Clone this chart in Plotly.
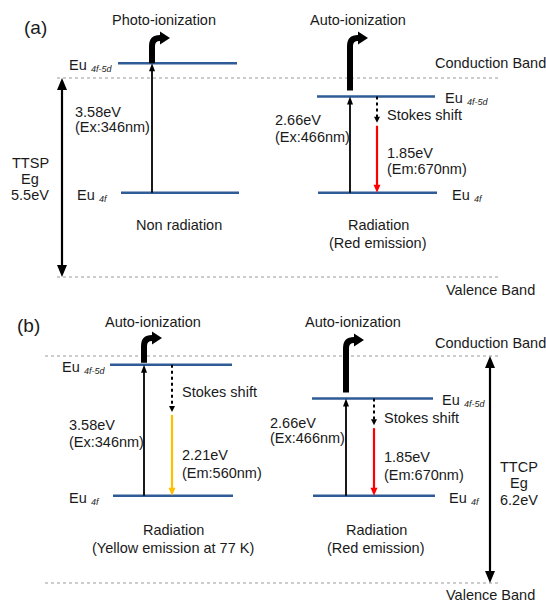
import plotly.graph_objects as go

W, H = 546, 602

# ---------------- energy data (eV) ----------------
PANELS = ["(a)", "(b)"]
HOSTS = ["TTSP", "TTCP"]
BAND_GAP_EV = [5.5, 6.2]
EU_4F_EV = [2.33, 2.38]                       # Eu 4f level above the valence band
EXCITATION_EV = [[3.58, 2.66], [3.58, 2.66]]
EXCITATION_NM = [[346, 466], [346, 466]]
EMISSION_EV = [[None, 1.85], [2.21, 1.85]]
EMISSION_NM = [[None, 670], [560, 670]]
EMISSION_COLOR = [[None, "#ff0000"], ["#ffc000", "#ff0000"]]
PROCESS = [["Photo-ionization", "Auto-ionization"],
           ["Auto-ionization", "Auto-ionization"]]
OUTCOME = [[["Non radiation"], ["Radiation", "(Red emission)"]],
           [["Radiation", "(Yellow emission at 77 K)"], ["Radiation", "(Red emission)"]]]
LEVEL_NAMES = ["4f-5d", "4f"]

# ---------------- layout geometry (pixels) ----------------
AXES = ["y", "y2"]
VB_PX = [277, 583]
CB_PX = [78, 356]
SPAN_PX = [(0, 300), (300, 602)]
SCALE = [(VB_PX[i] - CB_PX[i]) / BAND_GAP_EV[i] for i in range(2)]   # px per eV

LEVEL_BLUE = "#2f5b96"
INK = "#1a1a1a"
FONT = "Liberation Sans, Arial, sans-serif"
FS = 14.5

COLS = [
    [dict(lv5=(118, 237), lv4=(121, 239), x_ex=152, x_em=None, gap=0, top=38,
          lbl5=67, lbl4=75, ex_txt=73, ex_y=(112, 127), em_txt=None, em_y=None,
          stokes_y=None, mid=179, proc=164),
     dict(lv5=(317, 435), lv4=(318, 437), x_ex=350, x_em=377, gap=6, top=38,
          lbl5=443, lbl4=450, ex_txt=273, ex_y=(120, 137), em_txt=385, em_y=(153, 169),
          stokes_y=115, mid=378, proc=358)],
    [dict(lv5=(110, 232), lv4=(113, 233), x_ex=144, x_em=172, gap=2, top=338,
          lbl5=60, lbl4=67, ex_txt=67, ex_y=(425, 442), em_txt=180, em_y=(455, 473),
          stokes_y=392, mid=173, proc=153),
     dict(lv5=(312, 433), lv4=(313, 435), x_ex=346, x_em=374, gap=6, top=340,
          lbl5=440, lbl4=447, ex_txt=268, ex_y=(423, 438), em_txt=382, em_y=(457, 475),
          stokes_y=418, mid=376, proc=353)],
]
BAND_X = [(57, 500), (45, 498)]
GAP_ARROW_X = [62, 490]
GAP_TEXT_X = [30, 519]
GAP_TEXT_Y = [(163, 179, 195), (467, 483, 500)]
BAND_LABEL_Y = [(63, 290), (343, 595)]
PANEL_LABEL_XY = [(35, 27), (28, 325)]
PROC_Y = [20, 322]
OUTCOME_Y = [(225, 243), (530, 548)]

fig = go.Figure()
shapes, annots = [], []


def ev_at(p, py):
    """Energy (eV) on panel p's axis that sits at pixel row py."""
    return (VB_PX[p] - py) / SCALE[p]


def txt(s, x, y, anchor="center", size=FS, color=INK, style="normal"):
    annots.append(dict(text=s, x=x / W, y=1 - y / H, xref="paper", yref="paper",
                       xanchor={"l": "left", "r": "right"}.get(anchor, "center"),
                       yanchor="middle", showarrow=False, align="left",
                       font=dict(family=FONT, size=size, color=color, style=style)))


def level_label(name, x, py):
    """'Eu' with an italic subscript level name."""
    txt("Eu", x, py + 2, anchor="l")
    txt(name, x + 22, py + 6, anchor="l", size=9, style="italic")


def arrow(p, x, e0, e1, color="black", width=1.8, hw=7, hl=8, dash="solid", both=False):
    ax = AXES[p]
    d = 1 if e1 > e0 else -1
    h = hl / SCALE[p]
    start = e0 + d * h * 0.8 if both else e0
    shapes.append(dict(type="line", xref="x", yref=ax, x0=x, x1=x, y0=start,
                       y1=e1 - d * h * 0.8, line=dict(color=color, width=width, dash=dash)))

    def head(tip, dd):
        b = tip - dd * h
        shapes.append(dict(type="path", xref="x", yref=ax, fillcolor=color,
                           line=dict(width=0),
                           path=f"M{x - hw / 2},{b} L{x + hw / 2},{b} L{x},{tip} Z"))
    head(e1, d)
    if both:
        head(e0, -d)


def bent_arrow(p, x, e_bottom, top_px):
    ax = AXES[p]
    s = SCALE[p]
    r = 8
    yt = ev_at(p, top_px)
    xs = x + 9
    path = f"M{x},{e_bottom} L{x},{yt - r / s} Q{x},{yt} {x + r},{yt} L{xs},{yt}"
    shapes.append(dict(type="path", xref="x", yref=ax, path=path,
                       line=dict(color="black", width=6)))
    shapes.append(dict(type="path", xref="x", yref=ax, fillcolor="black",
                       line=dict(width=0),
                       path=f"M{xs - 1},{yt + 6.5 / s} L{xs - 1},{yt - 6.5 / s} "
                            f"L{xs + 9},{yt} Z"))


for p in range(2):
    ax = AXES[p]
    gap = BAND_GAP_EV[p]
    e4f = EU_4F_EV[p]

    # conduction / valence band edges
    for e in (gap, 0.0):
        shapes.append(dict(type="line", xref="x", yref=ax, x0=BAND_X[p][0], x1=BAND_X[p][1],
                           y0=e, y1=e, line=dict(color="#9a9a9a", width=1, dash="dot")))
    # band-gap double arrow
    arrow(p, GAP_ARROW_X[p], 0.0, gap, width=2.2, hw=10, hl=12, both=True)
    for t, yy in zip([HOSTS[p], "Eg", f"{gap}eV"], GAP_TEXT_Y[p]):
        txt(t, GAP_TEXT_X[p], yy)
    txt("Conduction Band", 490, BAND_LABEL_Y[p][0])
    txt("Valence Band", 490, BAND_LABEL_Y[p][1])
    txt(PANELS[p], *PANEL_LABEL_XY[p], size=19)

    for c in range(2):
        g = COLS[p][c]
        e5d = e4f + EXCITATION_EV[p][c]
        # Eu levels
        for (x0, x1), e in ((g["lv5"], e5d), (g["lv4"], e4f)):
            fig.add_trace(go.Scatter(x=[x0, x1], y=[e, e], mode="lines", yaxis=ax,
                                     line=dict(color=LEVEL_BLUE, width=2.5),
                                     hoverinfo="skip", showlegend=False))
        py5 = VB_PX[p] - e5d * SCALE[p]
        py4 = VB_PX[p] - e4f * SCALE[p]
        level_label(LEVEL_NAMES[0], g["lbl5"], py5)
        level_label(LEVEL_NAMES[1], g["lbl4"], py4)

        # excitation
        arrow(p, g["x_ex"], e4f, e5d, width=1.8, hw=6, hl=8)
        txt(f"{EXCITATION_EV[p][c]:.2f}eV", g["ex_txt"], g["ex_y"][0], anchor="l")
        txt(f"(Ex:{EXCITATION_NM[p][c]}nm)", g["ex_txt"], g["ex_y"][1], anchor="l")

        # ionization into the conduction band
        bent_arrow(p, g["x_ex"], e5d + g["gap"] / SCALE[p], g["top"])
        txt(PROCESS[p][c], g["proc"], PROC_Y[p])

        # Stokes shift + emission
        if EMISSION_EV[p][c] is not None:
            e_em = e4f + EMISSION_EV[p][c]
            arrow(p, g["x_em"], e5d, e_em + 3 / SCALE[p], width=2, hw=6, hl=6, dash="dot")
            arrow(p, g["x_em"], e_em, e4f, color=EMISSION_COLOR[p][c], width=2.2, hw=7, hl=8)
            txt("Stokes shift", g["em_txt"], g["stokes_y"], anchor="l")
            txt(f"{EMISSION_EV[p][c]:.2f}eV", g["em_txt"], g["em_y"][0], anchor="l")
            txt(f"(Em:{EMISSION_NM[p][c]}nm)", g["em_txt"], g["em_y"][1], anchor="l")

        for t, yy in zip(OUTCOME[p][c], OUTCOME_Y[p]):
            txt(t, g["mid"], yy)


def yrange(p):
    top, bot = SPAN_PX[p]
    return [ev_at(p, bot), ev_at(p, top)]


fig.update_layout(
    width=W, height=H, margin=dict(l=0, r=0, t=0, b=0),
    paper_bgcolor="white", plot_bgcolor="white",
    xaxis=dict(range=[0, W], visible=False, fixedrange=True, domain=[0, 1]),
    yaxis=dict(range=yrange(0), domain=[1 - 300 / H, 1], visible=False,
               fixedrange=True, anchor="x"),
    yaxis2=dict(range=yrange(1), domain=[0, 1 - 300 / H], visible=False,
                fixedrange=True, anchor="x"),
    shapes=shapes, annotations=annots, showlegend=False,
)

fig.write_html("out.html")
